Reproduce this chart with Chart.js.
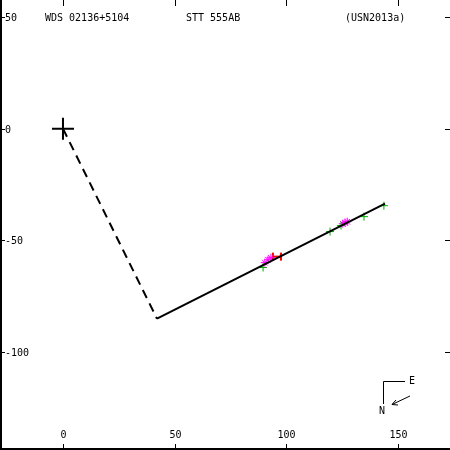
<!DOCTYPE html>
<html>
<head>
<meta charset="utf-8">
<script src="https://cdn.jsdelivr.net/npm/chart.js"></script>
<style>
  html, body { margin: 0; padding: 0; background: #fff; }
  #wrap { width: 450px; height: 450px; }
</style>
</head>
<body>
<div id="wrap"><canvas id="orbitChart" width="450" height="450"></canvas></div>

<script>
    // axis ranges and tick labels
    const xRange = [-28.2, 173.3];
    const yRange = [-143.9, 57.6];
    const xTicks = [0, 50, 100, 150];
    const yTicks = [50, 0, -50, -100];

    // orbit (seen nearly edge-on) and line to periastron
    const orbitLine = [{x: 42.1, y: -85.1}, {x: 144.2, y: -33.6}];
    const periLine = [{x: 0, y: 0}, {x: 42.1, y: -85.1}];

    // measurements
    const greenObs = [
        {x: 89.6, y: -62.2}, {x: 119.6, y: -46.1}, {x: 124.5, y: -43.4},
        {x: 134.8, y: -39.4}, {x: 143.7, y: -34.5}
    ];
    const magentaObs = [
        {x: 90.4, y: -60.0}, {x: 91.8, y: -58.7}, {x: 93.1, y: -57.8},
        {x: 125.3, y: -42.6}, {x: 126.3, y: -42.1}, {x: 127.3, y: -41.7}
    ];
    const redObs = [{x: 95.8, y: -57.3}];

    const titleLeft = "WDS 02136+5104";
    const titleMid = "STT 555AB";
    const titleRight = "(USN2013a)";

    const FONT = "10px 'DejaVu Sans Mono'";

    // "H" marker for the red point
    function makeH() {
        const c = document.createElement('canvas');
        c.width = 10; c.height = 10;
        const g = c.getContext('2d');
        g.strokeStyle = '#ff0000';
        g.lineWidth = 2;
        g.beginPath();
        g.moveTo(1, 1); g.lineTo(1, 9);
        g.moveTo(9, 1); g.lineTo(9, 9);
        g.moveTo(1, 5); g.lineTo(9, 5);
        g.stroke();
        return c;
    }

    const framePlugin = {
        id: 'frame',
        afterDraw(chart) {
            const ctx = chart.ctx;
            const xs = chart.scales.x, ys = chart.scales.y;
            const W = chart.width, H = chart.height;
            ctx.save();
            ctx.strokeStyle = '#000';
            ctx.fillStyle = '#000';
            ctx.lineWidth = 2;
            ctx.beginPath();
            ctx.moveTo(1, 0); ctx.lineTo(1, H - 1); ctx.lineTo(W, H - 1);
            ctx.stroke();

            ctx.lineWidth = 1;
            ctx.font = FONT;
            ctx.textAlign = 'center';
            ctx.textBaseline = 'middle';
            xTicks.forEach(v => {
                const px = Math.round(xs.getPixelForValue(v)) + 0.5;
                ctx.beginPath();
                ctx.moveTo(px, 0); ctx.lineTo(px, 6);
                ctx.moveTo(px, H); ctx.lineTo(px, H - 6);
                ctx.stroke();
                ctx.fillText(String(v), px, H - 15);
            });
            ctx.textAlign = 'left';
            yTicks.forEach(v => {
                const py = Math.round(ys.getPixelForValue(v)) + 0.5;
                ctx.beginPath();
                ctx.moveTo(0, py); ctx.lineTo(5, py);
                ctx.moveTo(W, py); ctx.lineTo(W - 5, py);
                ctx.stroke();
                ctx.fillText(String(v), 5, py + 1);
            });

            // header
            ctx.fillText(titleLeft, 45, 18);
            ctx.fillText(titleMid, 186, 18);
            ctx.fillText(titleRight, 345, 18);

            // compass
            ctx.beginPath();
            ctx.moveTo(383.5, 404); ctx.lineTo(383.5, 381.5); ctx.lineTo(405, 381.5);
            ctx.moveTo(410, 396); ctx.lineTo(392, 404.5);
            ctx.moveTo(392, 404.5); ctx.lineTo(396, 400);
            ctx.moveTo(392, 404.5); ctx.lineTo(398, 405);
            ctx.stroke();
            ctx.fillText('E', 409, 381);
            ctx.fillText('N', 379, 411);
            ctx.restore();
        }
    };

    new Chart(document.getElementById('orbitChart'), {
        type: 'scatter',
        data: {
            datasets: [
                {
                    data: orbitLine, showLine: true, borderColor: '#000',
                    borderWidth: 2, pointRadius: 0
                },
                {
                    data: periLine, showLine: true, borderColor: '#000',
                    borderWidth: 2, borderDash: [9, 6], pointRadius: 0
                },
                {
                    data: [{x: 0, y: 0}], pointStyle: 'cross', pointRadius: 11,
                    borderColor: '#000', borderWidth: 2
                },
                {
                    data: greenObs, pointStyle: 'cross', pointRadius: 4,
                    borderColor: '#00b000', borderWidth: 1
                },
                {
                    data: magentaObs, pointStyle: 'star', pointRadius: 4,
                    borderColor: '#ff00ff', borderWidth: 1
                },
                {
                    data: redObs, pointStyle: makeH(), pointRadius: 5
                }
            ]
        },
        options: {
            responsive: false,
            animation: false,
            layout: { padding: 0, autoPadding: false },
            plugins: { legend: { display: false }, tooltip: { enabled: false } },
            scales: {
                x: { type: 'linear', min: xRange[0], max: xRange[1], display: false },
                y: { type: 'linear', min: yRange[0], max: yRange[1], display: false }
            }
        },
        plugins: [framePlugin]
    });
</script>
</body>
</html>
